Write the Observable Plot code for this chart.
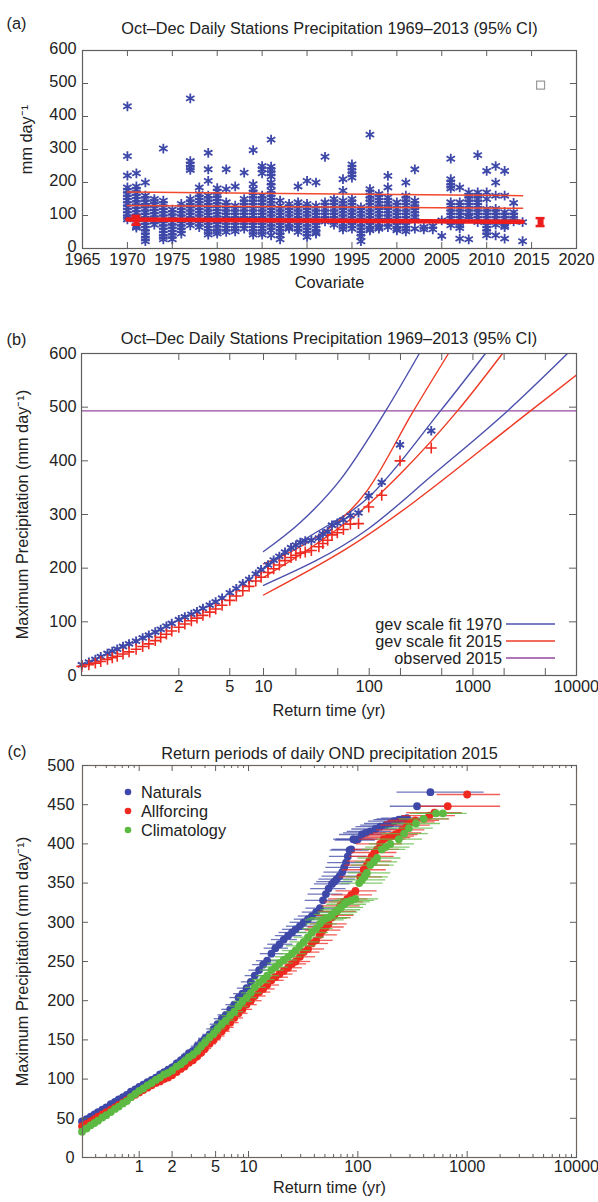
<!DOCTYPE html>
<html><head><meta charset="utf-8">
<script src="https://cdn.jsdelivr.net/npm/d3@7"></script>
<script src="https://cdn.jsdelivr.net/npm/@observablehq/plot@0.6"></script>
<style>
body{margin:0;background:#fff;}
#wrap{width:598px;}
#wrap svg{display:block;}
</style></head><body><div id="wrap"></div>
<script>
// ---------------- DATA ----------------
// Panel (a): station maxima per covariate year
const stationYears = [1970,1971,1972,1973,1974,1975,1976,1977,1978,1979,1980,1981,1982,1983,1984,1985,1986,1987,1988,1989,1990,1991,1992,1993,1994,1995,1996,1997,1998,1999,2000,2001,2002,2003,2004,2005,2006,2007,2008,2009,2010,2011,2012,2013,2014];
const stationValues = [
  [431,280,221,185,175,165,155,145,135,125,115,105,95,88],
  [228,188,178,168,158,148,138,128,118,108,98,88,78,68,63],
  [200,160,150,140,130,120,110,100,90,80,70,60,50,40,30,22],
  [150,142,132,122,112,102,92,82,72],
  [303,145,135,125,115,105,95,85,75,65,55,45,35,28],
  [118,108,98,88,78,68,58,48,38,28],
  [135,125,115,105,95,85,75,65,55,45],
  [455,265,255,245,238,150,140,130,120,110,100,90,80,70],
  [185,165,155,145,135,125,115,105,95,85,75,65],
  [290,240,205,160,150,140,130,120,110,100,90,80,70,60,50,42],
  [183,172,162,152,142,132,122,112,102,92,82,72,62,52,45],
  [240,180,140,130,120,110,100,90,80,70,60,50],
  [188,130,120,110,100,90,80,70,60,52],
  [230,150,140,130,120,110,100,90,80,70,60],
  [298,195,180,170,160,150,140,130,120,110,100,90,80,70,60,50,42],
  [250,240,228,160,150,140,130,120,110,100,90,80,70,60,50,42],
  [330,248,238,228,218,200,190,175,165,155,145,135,125,115,105,95,85,75,65,55,40],
  [145,130,120,110,100,90,80,70,60,50,40,28],
  [135,125,115,105,95,85,75,65,60],
  [188,140,130,120,110,100,90,80,70,60,50],
  [205,135,125,115,105,95,85,75,65,55,45,35],
  [200,130,120,110,100,90,80,70,60,50,45],
  [278,140,130,120,110,100,90,82],
  [150,140,130,120,110,100,90,80,72],
  [210,175,145,135,125,115,105,95,85,75,65,58],
  [255,245,235,225,215,150,140,130,120,110,100,90,80,70,60],
  [125,115,105,95,85,75,65,55,45,35,22],
  [345,180,170,160,150,140,130,120,110,100,90,80,70,60,55],
  [165,155,145,135,125,115,105,95,85,75,65,60],
  [220,185,155,145,135,125,115,105,95,85,75,65],
  [140,130,120,110,100,90,80,70,60,55],
  [200,160,150,140,130,120,110,100,90,80,70,60,52],
  [240,145,135,125,115,105,95,85,60],
  [65,58],
  [68,58],
  [85,38],
  [272,210,200,190,182,140,130,120,110,100,90,80,70],
  [185,140,130,120,110,100,90,80,70,62,30],
  [170,160,150,140,130,120,110,100,95,28],
  [283,170,160,150,140,130,120,110,100,90,80],
  [235,170,150,120,110,100,90,80,70,60,50,40],
  [250,200,160,120,110,100,90,80,72,40],
  [235,160,110,100,90,80,70,65,30],
  [138,110,100,90,82],
  [80,22]
];
const fitYears = [1970, 2014];
const fitUpperA = [171, 160];
const fitMidA = [130, 122];
const fitLowA = [88, 81];
const covErrYears = [1971, 2016];
const covErrMid = [85, 80];
const covErrLo = [72, 68];
const covErrHi = [99, 92];
const obsYear = [2016];
const obsValue = [495];
const aXTicks = [1965,1970,1975,1980,1985,1990,1995,2000,2005,2010,2015,2020];
const aYTicks = [0,100,200,300,400,500,600];

// Panel (b): return-time plot (Gumbel axis)
const bT = [1.0025,1.006,1.012,1.02,1.035,1.05,1.07,1.1,1.14,1.2,1.27,1.35,1.45,1.55,1.67,1.8,2.0,2.2,2.45,2.7,3.0,3.4,3.8,4.3,5,5.7,6.5,7.4,8.5,9.5,11,12.4,14,15.8,18,20,22,24.5,28,33,36,40,44,49.5,56.6,66,79,99,132,198,396];
const b1970V = [20,25,30,35,41,45,49,54,59,64,70,75,81,86,92,97,104,109,114,119,125,131,137,144,154,162,171,179,189,197,206,215,222,230,238,243,248,251,252,256,264,268,280,284,290,298,303,335,360,430,456];
const b2015V = [17,20,23,26,30,33,36,40,44,49,54,59,65,71,77,83,90,96,102,107,112,118,124,131,140,148,158,166,176,183,192,199,206,214,220,224,228,230,233,240,246,252,262,266,272,282,283,314,336,400,424];
const fit1970UpT = [10,22,53,144,304],   fit1970UpV = [231,285,365,493,600];
const fit2015UpT = [10,22,96,267,581],   fit2015UpV = [208,240,345,493,600];
const fit1970MidT = [10,22,100,486,1321], fit1970MidV = [198,248,333,493,600];
const fit2015MidT = [10,22,100,200,709,1930], fit2015MidV = [183,225,320,376,493,600];
const fit1970LoT = [10,96,416,2155,8183], fit1970LoV = [168,272,375,493,600];
const fit2015LoT = [10,57,3597,10000], fit2015LoV = [150,233,493,560];
const observed2015 = 493;
const bXLabels = [2,5,10,100,1000,10000];
const bXTicks = [2,5,10,20,50,100,200,500,1000,2000,5000,10000];
const bYTicks = [0,100,200,300,400,500,600];
const bLegend = ["gev scale fit 1970","gev scale fit 2015","observed 2015"];

// Panel (c): return periods, three ensembles
// dense part (shared return times and CI bounds)
const cDenseT  = [0.30,0.33,0.36,0.39,0.42,0.46,0.5,0.55,0.6,0.65,0.71,0.77,0.84,0.92,1.0,1.09,1.19,1.3,1.42,1.55,1.69,1.84,2.0,2.2,2.4,2.6,2.85,3.1,3.4,3.7,4.0,4.4,4.8,5.2,5.7,6.2,6.8,7.4,8.1,8.8,9.6,10.5,11.4,12.5,13.6,14.8,16.2,17.6,19.2,21,23,25,27,29.5,32,35,38,41.5,45];
const cDenseLo = [0.29,0.32,0.35,0.38,0.41,0.45,0.49,0.53,0.58,0.63,0.69,0.75,0.81,0.89,0.96,1.04,1.13,1.23,1.34,1.45,1.57,1.7,1.83,2.0,2.17,2.34,2.55,2.76,3.0,3.25,3.5,3.83,4.15,4.45,4.85,5.25,5.7,6.2,6.75,7.3,7.9,8.6,9.3,10.1,10.9,11.8,12.8,13.9,15,16.2,17.6,19,20.4,22.2,24,26.2,28.5,31,33.5];
const cDenseHi = [0.31,0.34,0.37,0.40,0.43,0.47,0.51,0.57,0.62,0.67,0.73,0.79,0.87,0.95,1.04,1.14,1.25,1.37,1.5,1.65,1.81,1.98,2.18,2.42,2.66,2.9,3.2,3.5,3.86,4.23,4.6,5.1,5.6,6.1,6.8,7.4,8.2,9.0,9.9,10.9,12,13.3,14.5,16,17.5,19.2,21.2,23.2,25.5,28,31,34,37,41,45,49.5,54,59.5,65];
const natDenseV = [46,49,52,55,58,61,64,68,71,74,77,80,84,87,90,93,96,99,102,106,109,112,115,120,124,128,133,136,142,147,152,157,164,170,177,182,189,195,204,209,216,224,232,239,246,251,260,267,272,278,283,287,291,295,300,304,308,313,318];
const allDenseV = [40,43,46,49,52,55,58,61,64,67,70,73,77,80,83,86,89,92,95,97,100,102,105,109,113,116,121,124,129,134,139,145,150,155,161,166,172,178,184,189,195,200,206,211,215,220,226,230,234,238,242,247,250,256,262,266,273,277,284];
const cliDenseV = [33,37,41,44,47,51,54,58,62,65,69,72,77,81,85,88,92,95,99,102,106,108,111,116,119,123,128,131,136,142,147,153,158,164,170,175,181,186,193,199,204,210,217,223,227,232,239,243,248,252,256,260,264,270,275,281,287,292,298];
// upper, sparser part per ensemble
const natUpT  = [48,51,54,58,61,64,68,72,75,78,81,84,87,91,95,100,109,118,130,145,160,180,198,215,237,260,282,348,461];
const natUpV  = [328,336,343,349,352,355,359,364,370,376,384,392,393,406,405,406,412,414,416,419,422,424,426,429,431,432,433,448,466];
const natUpLo = [33,35,37,40,42,44,47,49,51,53,55,56,58,60,62,64,68,74,80,88,96,106,115,125,140,150,165,198,228];
const natUpHi = [68,73,78,85,90,95,101,107,112,117,122,127,132,138,145,153,168,183,205,230,255,290,320,350,390,430,470,636,1429];
const allUpT  = [48,51,54,58,61,64,69,74,80,87,95,105,113,121,127,134,142,150,160,172,190,205,220,237,254,282,310,335,400,450,502,664,1000];
const allUpV  = [290,294,298,306,309,314,321,326,330,335,340,358,367,373,378,384,389,393,400,406,408,410,412,414,418,424,428,430,432,436,440,448,463];
const allUpLo = [33,35,37,40,42,44,47,50,54,58,63,68,72,76,80,84,88,92,97,104,113,120,128,138,148,162,175,190,230,255,280,373,530];
const allUpHi = [70,75,80,87,92,97,105,113,124,136,150,168,182,195,205,215,228,240,256,275,305,330,355,385,410,460,510,560,690,780,900,2023,2023];
const cliUpT  = [48,51,54,58,62,66,70,75,80,87,95,103,109,115,121,130,140,150,166,180,198,237,265,293,340,400,520,600];
const cliUpV  = [303,305,306,310,313,316,319,323,326,328,330,350,354,358,363,373,377,382,393,396,400,406,413,420,426,432,439,439];
const cliUpLo = [33,35,37,40,43,46,48,52,55,60,65,70,74,78,82,88,94,100,110,118,128,150,165,180,205,240,300,350];
const cliUpHi = [75,80,86,93,100,106,113,120,130,142,155,170,180,190,200,215,232,248,275,300,330,390,440,490,570,680,900,1000];
const cSeries = ["Naturals","Allforcing","Climatology"];
const cXLabels = [1,2,5,10,100,1000,10000];
const cXMinor = [0.4,0.5,0.6,0.7,0.8,0.9,3,4,6,7,8,9,20,30,40,50,60,70,80,90,200,300,400,500,600,700,800,900,2000,3000,4000,5000,6000,7000,8000,9000];
const cYTicks = [0,50,100,150,200,250,300,350,400,450,500];

// ---------------- STYLE ----------------
const W = 598;
const FONT = "'Liberation Sans', Arial, Helvetica, sans-serif";
const INK = "#222";
const FRAME = "#5f5f5f";
const FS = 16.3;
const BLUE = "#3e48a8", RED = "#ee2a20", GREEN = "#5cba42", PURPLE = "#93479f";
const wrap = document.getElementById("wrap");

function inward(xs, xf, ys, yf, fw, fh, len) {
  return [
    Plot.ruleX(xs, {x: xf, insetTop: fh - len, stroke: FRAME}),
    Plot.ruleX(xs, {x: xf, insetBottom: fh - len, stroke: FRAME}),
    Plot.ruleY(ys, {y: yf, insetRight: fw - len, stroke: FRAME}),
    Plot.ruleY(ys, {y: yf, insetLeft: fw - len, stroke: FRAME})
  ];
}
const gum = T => -Math.log(-Math.log(1 - 1 / T));
const id = d => d;

// ---------------- PANEL (a) ----------------
{
  const ML = 82, MR = 22, MT = 50, MB = 52, H = 300;
  const fw = W - ML - MR, fh = H - MT - MB;
  const pts = stationYears.flatMap((y, i) => stationValues[i].map(v => ({year: y, value: v})));
  const fits = [fitUpperA, fitMidA, fitLowA].flatMap((arr, k) => fitYears.map((y, i) => ({year: y, value: arr[i], k})));
  const errs = covErrYears.map((y, i) => ({year: y, mid: covErrMid[i], lo: covErrLo[i], hi: covErrHi[i]}));
  const svg = Plot.plot({
    width: W, height: H, marginLeft: ML, marginRight: MR, marginTop: MT, marginBottom: MB,
    x: {domain: [1965, 2020], axis: null},
    y: {domain: [0, 600], axis: null},
    style: {fontFamily: FONT, fontSize: FS + "px", color: INK, background: "white"},
    marks: [
      Plot.dot(pts, {x: "year", y: "value", symbol: "asterisk", r: 4.6, stroke: BLUE, strokeWidth: 1.8}),
      Plot.line(fits.filter(d => d.k < 2), {x: "year", y: "value", z: "k", stroke: "#f2492e", strokeWidth: 1.5}),
      Plot.line(fits.filter(d => d.k === 2), {x: "year", y: "value", stroke: "#ee1d1d", strokeWidth: 4.5}),
      Plot.ruleX(errs, {x: "year", y1: "lo", y2: "hi", stroke: "#ee1d1d", strokeWidth: 6}),
      Plot.ruleY(errs, {y: "lo", x1: d => d.year - 0.5, x2: d => d.year + 0.5, stroke: "#ee1d1d", strokeWidth: 2.5}),
      Plot.ruleY(errs, {y: "hi", x1: d => d.year - 0.5, x2: d => d.year + 0.5, stroke: "#ee1d1d", strokeWidth: 2.5}),
      Plot.dot(obsYear.map((y, i) => ({year: y, value: obsValue[i]})), {x: "year", y: "value", symbol: "square", r: 4.5, stroke: "#9a9a9a", fill: "white", strokeWidth: 1.2}),
      Plot.frame({stroke: FRAME, strokeWidth: 1.2}),
      ...inward(aXTicks, id, aYTicks, id, fw, fh, 6),
      Plot.text(aXTicks, {x: id, frameAnchor: "bottom", dy: 16, text: d => String(d), fontSize: FS}),
      Plot.text(aYTicks, {y: id, frameAnchor: "left", dx: -6, dy: -2, textAnchor: "end", text: d => String(d), fontSize: FS}),
      Plot.text(["Covariate"], {frameAnchor: "bottom", dy: 39, text: id, fontSize: FS}),
      Plot.text(["mm day\u207B\u00B9"], {frameAnchor: "left", dx: -56, dy: -10, rotate: -90, textAnchor: "middle", text: id, fontSize: FS}),
      Plot.text(["Oct\u2013Dec Daily Stations Precipitation 1969\u20132013 (95% CI)"], {frameAnchor: "top", dy: -28, text: id, fontSize: FS}),
      Plot.text(["(a)"], {frameAnchor: "top-left", dx: 6 - ML, dy: 17 - MT, textAnchor: "start", text: id, fontSize: FS})
    ]
  });
  wrap.appendChild(svg);
}

// ---------------- PANEL (b) ----------------
{
  const ML = 81, MR = 22, MT = 53, MB = 45, H = 420;
  const fw = W - ML - MR, fh = H - MT - MB;
  const blueRows = bT.map((T, i) => ({T, v: b1970V[i]}));
  const redRows = bT.map((T, i) => ({T, v: b2015V[i]}));
  const mk = (Ts, Vs, k) => Ts.map((T, i) => ({T, v: Vs[i], k}));
  const blueFits = [...mk(fit1970UpT, fit1970UpV, 0), ...mk(fit1970MidT, fit1970MidV, 1), ...mk(fit1970LoT, fit1970LoV, 2)];
  const redFits = [...mk(fit2015UpT, fit2015UpV, 0), ...mk(fit2015MidT, fit2015MidV, 1), ...mk(fit2015LoT, fit2015LoV, 2)];
  const svg = Plot.plot({
    width: W, height: H, marginLeft: ML, marginRight: MR, marginTop: MT, marginBottom: MB,
    x: {domain: [gum(1.0024), gum(10000)], axis: null},
    y: {domain: [0, 600], axis: null},
    style: {fontFamily: FONT, fontSize: FS + "px", color: INK, background: "white"},
    marks: [
      Plot.ruleY([observed2015], {stroke: PURPLE, strokeWidth: 1.3}),
      Plot.line(blueFits, {x: d => gum(d.T), y: "v", z: "k", stroke: "#4b50ad", strokeWidth: 1.4, curve: "monotone-x", clip: true}),
      Plot.line(redFits, {x: d => gum(d.T), y: "v", z: "k", stroke: "#ee3a24", strokeWidth: 1.4, curve: "monotone-x", clip: true}),
      Plot.dot(blueRows, {x: d => gum(d.T), y: "v", symbol: "asterisk", r: 4.4, stroke: BLUE, strokeWidth: 1.9}),
      Plot.dot(redRows, {x: d => gum(d.T), y: "v", symbol: "plus", r: 3.6, stroke: "#ee2a20", strokeWidth: 1.6}),
      Plot.frame({stroke: FRAME, strokeWidth: 1.2}),
      ...inward(bXTicks, d => gum(d), bYTicks, id, fw, fh, 7),
      Plot.text(bXLabels, {x: d => gum(d), frameAnchor: "bottom", dy: 16, text: d => String(d), fontSize: FS}),
      Plot.text(bYTicks, {y: id, frameAnchor: "left", dx: -5, textAnchor: "end", text: d => String(d), fontSize: FS}),
      Plot.text(["Return time (yr)"], {frameAnchor: "bottom", dy: 40, text: id, fontSize: FS}),
      Plot.text(["Maximum Precipitation (mm day\u207B\u00B9)"], {frameAnchor: "left", dx: -59, rotate: -90, textAnchor: "middle", text: id, fontSize: FS}),
      Plot.text(["Oct\u2013Dec Daily Stations Precipitation 1969\u20132013 (95% CI)"], {frameAnchor: "top", dy: -21, text: id, fontSize: FS}),
      Plot.text(["(b)"], {frameAnchor: "top-left", dx: 6 - ML, dy: 33 - MT, textAnchor: "start", text: id, fontSize: FS})
    ]
  });
  const lg = d3.select(svg).append("g").attr("font-family", FONT).attr("font-size", FS).attr("fill", INK);
  const ly = [324, 341, 358], lc = ["#4b50ad", "#ee3a24", PURPLE];
  bLegend.forEach((t, i) => {
    lg.append("text").attr("x", 502).attr("y", ly[i]).attr("dy", "0.35em").attr("text-anchor", "end").text(t);
    lg.append("line").attr("x1", 506).attr("x2", 555).attr("y1", ly[i]).attr("y2", ly[i]).attr("stroke", lc[i]).attr("stroke-width", 1.4);
  });
  wrap.appendChild(svg);
}

// ---------------- PANEL (c) ----------------
{
  const ML = 82, MR = 22, MT = 45, MB = 45, H = 482;
  const fw = W - ML - MR, fh = H - MT - MB;
  const dense = Vs => cDenseT.map((T, i) => ({T, v: Vs[i], lo: cDenseLo[i], hi: cDenseHi[i]}));
  const upper = (Ts, Vs, Lo, Hi) => Ts.map((T, i) => ({T, v: Vs[i], lo: Lo[i], hi: Hi[i]}));
  const nat = [...dense(natDenseV), ...upper(natUpT, natUpV, natUpLo, natUpHi)];
  const all = [...dense(allDenseV), ...upper(allUpT, allUpV, allUpLo, allUpHi)];
  const cli = [...dense(cliDenseV), ...upper(cliUpT, cliUpV, cliUpLo, cliUpHi)];
  const cols = [BLUE, RED, GREEN];
  const layer = (data, c) => [
    Plot.ruleY(data, {y: "v", x1: "lo", x2: "hi", stroke: c, strokeWidth: 1.3, strokeOpacity: 0.75}),
    Plot.dot(data, {x: "T", y: "v", r: 3.9, fill: c})
  ];
  const svg = Plot.plot({
    width: W, height: H, marginLeft: ML, marginRight: MR, marginTop: MT, marginBottom: MB,
    x: {type: "log", domain: [0.303, 10000], axis: null},
    y: {domain: [0, 500], axis: null},
    style: {fontFamily: FONT, fontSize: FS + "px", color: INK, background: "white"},
    marks: [
      ...layer(nat, cols[0]),
      ...layer(all, cols[1]),
      ...layer(cli, cols[2]),
      Plot.frame({stroke: "#6e6660", strokeWidth: 1.2}),
      ...inward(cXLabels, id, cYTicks, id, fw, fh, 6),
      Plot.ruleX(cXMinor, {x: id, insetTop: fh - 3, stroke: FRAME}),
      Plot.ruleX(cXMinor, {x: id, insetBottom: fh - 3, stroke: FRAME}),
      Plot.text(cXLabels, {x: id, frameAnchor: "bottom", dy: 14, text: d => String(d), fontSize: FS}),
      Plot.text(cYTicks, {y: id, frameAnchor: "left", dx: -8, textAnchor: "end", text: d => String(d), fontSize: FS}),
      Plot.text(["Return time (yr)"], {frameAnchor: "bottom", dy: 35, text: id, fontSize: FS}),
      Plot.text(["Maximum Precipitation (mm day\u207B\u00B9)"], {frameAnchor: "left", dx: -60, rotate: -90, textAnchor: "middle", text: id, fontSize: FS}),
      Plot.text(["Return periods of daily OND precipitation 2015"], {frameAnchor: "top", dy: -18, text: id, fontSize: FS}),
      Plot.text(["(c)"], {frameAnchor: "top-left", dx: 7 - ML, dy: 25 - MT, textAnchor: "start", text: id, fontSize: FS})
    ]
  });
  const lg = d3.select(svg).append("g").attr("font-family", FONT).attr("font-size", FS).attr("fill", INK);
  const ly = [72, 91, 110];
  cSeries.forEach((t, i) => {
    lg.append("circle").attr("cx", 128).attr("cy", ly[i]).attr("r", 3.3).attr("fill", cols[i]);
    lg.append("text").attr("x", 141).attr("y", ly[i]).attr("dy", "0.35em").attr("text-anchor", "start").text(t);
  });
  wrap.appendChild(svg);
}
</script></body></html>
